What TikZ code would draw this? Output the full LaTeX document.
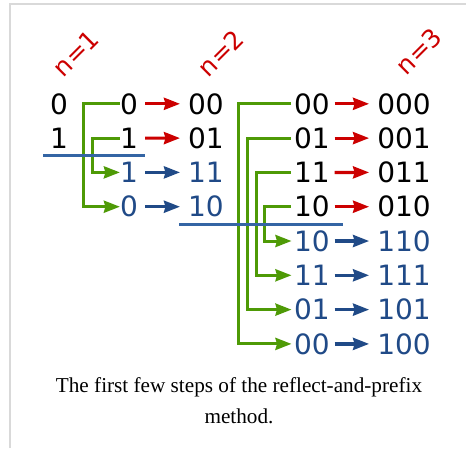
\documentclass[tikz,border=0pt]{standalone}
\usepackage{fontspec}
\setmainfont{Liberation Serif}
\newfontfamily\digitfont{DejaVu Sans}
\usetikzlibrary{arrows.meta}

\definecolor{tred}{HTML}{CC0000}
\definecolor{tgreen}{HTML}{4E9A06}
\definecolor{tblue}{HTML}{204A87}
\definecolor{tbluel}{HTML}{3465A4}
\definecolor{framegray}{HTML}{D9D9D9}

\tikzset{
  bit/.style={font=\digitfont\fontsize{28}{30}\selectfont, inner sep=0pt, anchor=base},
  oldbit/.style={bit, text=black},
  newbit/.style={bit, text=tblue},
  nlabel/.style={font=\digitfont\fontsize{25}{27}\selectfont, text=tred, rotate=45, inner sep=0pt},
  head/.style={-{Stealth[length=16pt, width=12pt, inset=1.5pt]}},
  fwdred/.style={head, draw=tred, line width=3.2pt},
  fwdblue/.style={head, draw=tblue, line width=3.2pt},
  mirror/.style={head, draw=tgreen, line width=3pt},
  divider/.style={draw=tbluel, line width=3pt},
  caption/.style={font=\fontsize{21.2}{24}\selectfont, anchor=base, inner sep=0pt},
  frame/.style={draw=framegray, line width=2pt}
}

\begin{document}
\begin{tikzpicture}[x=1pt, y=-1pt]
\useasboundingbox (0,0) rectangle (466,448);
\fill[white] (0,0) rectangle (466,448);
\draw[frame] (9.5,448) -- (9.5,3.5) -- (466,3.5);

% column headings
\node[nlabel] (n1) at (76,53) {n=1};
\node[nlabel] (n2) at (221,53) {n=2};
\node[nlabel] (n3) at (419,51) {n=3};

% n = 1
\node[oldbit] (a1) at (59,114) {0};
\node[oldbit] (a2) at (59,148.3) {1};

% n = 2: copy, reflect, then prefix
\node[oldbit] (b1) at (129,114) {0};
\node[oldbit] (b2) at (129,148.3) {1};
\node[newbit] (b3) at (129,182.6) {1};
\node[newbit] (b4) at (129,216.9) {0};

\node[oldbit] (c1) at (206,114) {00};
\node[oldbit] (c2) at (206,148.3) {01};
\node[newbit] (c3) at (206,182.6) {11};
\node[newbit] (c4) at (206,216.9) {10};

% n = 3: copy, reflect, then prefix
\node[oldbit] (d1) at (312,114) {00};
\node[oldbit] (d2) at (312,148.3) {01};
\node[oldbit] (d3) at (312,182.6) {11};
\node[oldbit] (d4) at (312,216.9) {10};
\node[newbit] (d5) at (312,251.2) {10};
\node[newbit] (d6) at (312,285.5) {11};
\node[newbit] (d7) at (312,319.8) {01};
\node[newbit] (d8) at (312,354.1) {00};

\node[oldbit] (e1) at (404,114) {000};
\node[oldbit] (e2) at (404,148.3) {001};
\node[oldbit] (e3) at (404,182.6) {011};
\node[oldbit] (e4) at (404,216.9) {010};
\node[newbit] (e5) at (404,251.2) {110};
\node[newbit] (e6) at (404,285.5) {111};
\node[newbit] (e7) at (404,319.8) {101};
\node[newbit] (e8) at (404,354.1) {100};

% reflections
\draw[mirror] (b1.west) -- ++(-36,0) |- (b4.west);
\draw[mirror] (b2.west) -- ++(-27,0) |- (b3.west);

\draw[mirror, shorten <=3pt, shorten >=2.5pt] (d1.west) -- ++(-55,0) |- (d8.west);
\draw[mirror, shorten <=3pt, shorten >=2.5pt] (d2.west) -- ++(-46.5,0) |- (d7.west);
\draw[mirror, shorten <=3pt, shorten >=2.5pt] (d3.west) -- ++(-37.5,0) |- (d6.west);
\draw[mirror, shorten <=3pt, shorten >=2.5pt] (d4.west) -- ++(-29,0) |- (d5.west);

% dividers between the copied and the reflected halves
\draw[divider] (43,155) coordinate (s1a) -- (145,155) coordinate (s1b);
\draw[divider] (179,224) coordinate (s2a) -- (343,224) coordinate (s2b);

% prefixing
\foreach \i in {1,2} \draw[fwdred, shorten <=7pt, shorten >=8pt] (b\i.east) -- (c\i.west);
\foreach \i in {3,4} \draw[fwdblue, shorten <=7pt, shorten >=8pt] (b\i.east) -- (c\i.west);
\foreach \i in {1,...,4} \draw[fwdred, shorten <=4.5pt, shorten >=8pt] (d\i.east) -- (e\i.west);
\foreach \i in {5,...,8} \draw[fwdblue, shorten <=4.5pt, shorten >=8pt] (d\i.east) -- (e\i.west);

% caption
\node[caption] (cap1) at (239,392) {The first few steps of the reflect-and-prefix};
\node[caption] (cap2) at (239,423) {method.};
\end{tikzpicture}
\end{document}
